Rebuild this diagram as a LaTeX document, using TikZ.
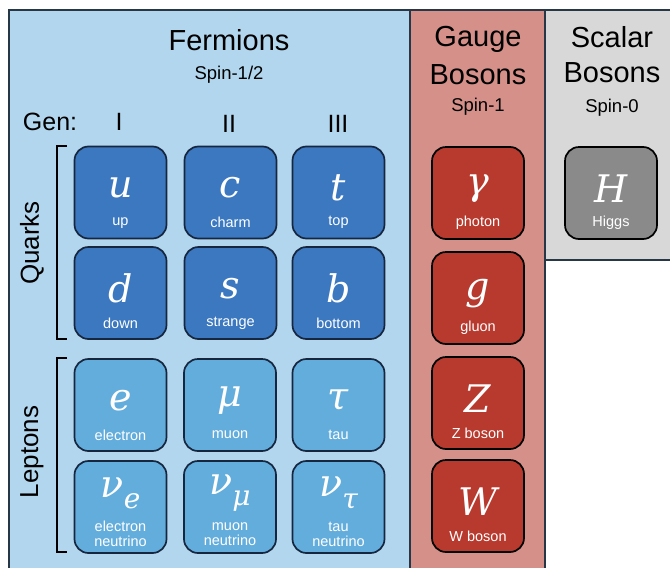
\documentclass[tikz,border=0pt]{standalone}
\usepackage{fontspec}
\setmainfont{Liberation Sans}
\newfontfamily\symf{DejaVu Serif}
\usetikzlibrary{calc}
\definecolor{fermbg}{RGB}{178,214,238}
\definecolor{quarkc}{RGB}{59,120,192}
\definecolor{leptonc}{RGB}{99,173,221}
\definecolor{tileedge}{RGB}{22,38,62}
\definecolor{gaugebg}{RGB}{214,144,138}
\definecolor{gaugec}{RGB}{184,58,46}
\definecolor{scalarbg}{RGB}{216,216,216}
\definecolor{higgsc}{RGB}{138,138,138}
\definecolor{paneledge}{RGB}{40,55,70}
\tikzset{
  panel/.style={draw=paneledge,line width=2pt},
  tile/.style={draw=tileedge,line width=1.7pt,rounded corners=14pt,minimum width=92pt,minimum height=92pt,inner sep=0pt},
  quark/.style={tile,fill=quarkc},
  lepton/.style={tile,fill=leptonc},
  gauge/.style={tile,fill=gaugec,draw=black},
  higgs/.style={tile,fill=higgsc,draw=black},
  sym/.style={text=white,inner sep=0pt,font=\fontsize{38}{38}\selectfont\symf\itshape},
  lab/.style={text=white,inner sep=0pt,align=center,font=\fontsize{14.5}{15}\selectfont},
  head/.style={inner sep=0pt,font=\fontsize{29}{30}\selectfont},
  spin/.style={inner sep=0pt,font=\fontsize{18.5}{19}\selectfont},
  gen/.style={inner sep=0pt,font=\fontsize{25}{25}\selectfont},
  side/.style={inner sep=0pt,rotate=90,font=\fontsize{26}{26}\selectfont},
  brack/.style={line width=1.5pt,black}
}
\newcommand\ptile[6]{%
  \node[#4] (#1) at (#2,#3) {};
  \node[sym] (#1s) at ($(#1.north)+(0,42)$) {#5};
  \node[lab] (#1l) at ($(#1.north)+(0,77)$) {#6};
}
\newcommand\ntile[6]{%
  \node[#4] (#1) at (#2,#3) {};
  \node[sym] (#1s) at ($(#1.north)+(0,33)$) {#5};
  \node[lab] (#1l) at ($(#1.north)+(0,74)$) {#6};
}
\newcommand\nusub[1]{ν\raisebox{-0.3em}{\fontsize{28}{28}\selectfont #1}}
\begin{document}
\begin{tikzpicture}[x=1pt,y=-1pt]
\useasboundingbox (0,0) rectangle (670,568);
\clip (0,0) rectangle (670,568);
% panels
\fill[white] (0,0) rectangle (670,568);
\draw[panel,fill=fermbg] (9,10) rectangle (410,590);
\draw[panel,fill=gaugebg] (410,10) rectangle (545,590);
\draw[panel,fill=scalarbg] (545,10) rectangle (690,260);
% headings
\node[head] (fermh) at (229,40) {Fermions};
\node[spin] (ferms) at (229,75) {Spin-1/2};
\node[head] (gaugeh1) at (478,39) {Gauge};
\node[head] (gaugeh2) at (478,75) {Bosons};
\node[spin] (gauges) at (478,107) {Spin-1};
\node[head] (scalh1) at (612,37) {Scalar};
\node[head] (scalh2) at (612,73) {Bosons};
\node[spin] (scals) at (612,108) {Spin-0};
\node[gen] (genl) at (50,122) {Gen:};
\node[gen] (g1) at (119,122) {I};
\node[gen] (g2) at (229,124) {II};
\node[gen] (g3) at (338,124) {III};
% quarks
\ptile{up}{120.5}{192.5}{quark}{u}{up}
\ptile{charm}{230.5}{192.5}{quark}{c}{charm}
\ptile{top}{338.5}{192.5}{quark}{t}{top}
\ptile{down}{120.5}{293}{quark}{d}{down}
\ptile{strange}{230.5}{293}{quark}{s}{strange}
\ptile{bottom}{338.5}{293}{quark}{b}{bottom}
% leptons
\ptile{electron}{120.5}{405}{lepton}{e}{electron}
\ptile{muon}{230}{405}{lepton}{μ}{muon}
\ptile{tau}{338.5}{405}{lepton}{τ}{tau}
\ntile{nue}{120.5}{507}{lepton}{\nusub{e}}{electron\\neutrino}
\ntile{numu}{230}{507}{lepton}{\nusub{μ}}{muon\\neutrino}
\ntile{nutau}{338.5}{507}{lepton}{\nusub{τ}}{tau\\neutrino}
% gauge bosons
\ptile{photon}{478}{193}{gauge}{γ}{photon}
\ptile{gluon}{478}{298}{gauge}{g}{gluon}
\ptile{zb}{478}{403}{gauge}{Z}{Z boson}
\ptile{wb}{478}{506}{gauge}{W}{W boson}
% higgs
\ptile{higgs}{611}{193}{higgs}{H}{Higgs}
% brackets and side labels
\draw[brack] (67,146) -- (57,146) -- (57,339) -- (67,339);
\draw[brack] (67,358) -- (57,358) -- (57,552) -- (67,552);
\node[side] (quarksl) at (32,243) {Quarks};
\node[side] (leptonsl) at (32,452) {Leptons};
\end{tikzpicture}
\end{document}
